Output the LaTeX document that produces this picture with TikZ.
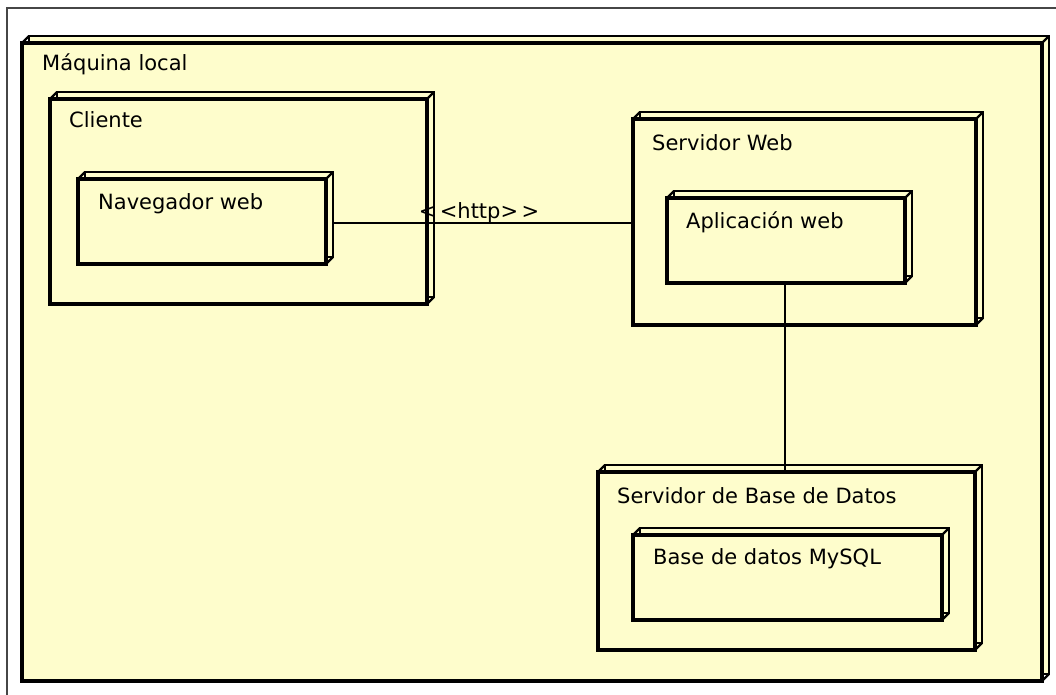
\documentclass[tikz,border=0pt]{standalone}
\usepackage{fontspec}
\setmainfont{DejaVu Sans}
\definecolor{nodefill}{RGB}{254,253,204}
\definecolor{framegray}{RGB}{70,70,70}
\tikzset{
  front/.style={draw=black, fill=nodefill, line width=3.6pt, rectangle,
    inner sep=0pt, outer sep=0pt},
  back/.style={draw=black, fill=nodefill, line width=2.4pt},
  diag/.style={draw=black, line width=2.4pt},
  lbl/.style={anchor=base west, inner sep=0pt, font=\fontsize{21}{25}\selectfont},
  conn/.style={draw=black, line width=1.3pt},
}
% deployment node: name, centre x, centre y, width, height (depth 7)
\newcommand\deploynode[5]{%
  \draw[back] ({#2-#4/2+7},{#3-#5/2-7}) rectangle ({#2+#4/2+7},{#3+#5/2-7});
  \node[front, minimum width=#4pt, minimum height=#5pt] (#1) at (#2,#3) {};
  \draw[diag] (#1.north west) -- ++(7,-7)
              (#1.north east) -- ++(7,-7)
              (#1.south east) -- ++(7,-7);
}
\begin{document}
\begin{tikzpicture}[x=1pt,y=-1pt]
\useasboundingbox (0,0) rectangle (1056,695);
\fill[white] (0,0) rectangle (1056,695);
% frame edges
\draw[framegray, line width=1.2pt] (7,695) -- (7,8) -- (1056,8);

% nodes
\deploynode{local}{532}{362}{1020}{638}
\node[lbl] (tlocal) at (42,71) {Máquina local};

\deploynode{cliente}{238.5}{201.5}{377}{205}
\node[lbl] (tcliente) at (69,128) {Cliente};

\deploynode{nav}{202}{221.5}{248}{85}
\node[lbl] (tnav) at (98,209) {Navegador web};

\deploynode{sweb}{804.5}{222}{343}{206}
\node[lbl] (tsweb) at (652,150) {Servidor Web};

\deploynode{app}{786}{240.5}{238}{85}
\node[lbl] (tapp) at (686,228) {Aplicación web};

\deploynode{sbd}{786.5}{561}{377}{178}
\node[lbl] (tsbd) at (617,503) {Servidor de Base de Datos};

\deploynode{mysql}{787.5}{577.5}{309}{85}
\node[lbl] (tmysql) at (653,564) {Base de datos MySQL};

% connectors
\draw[conn] ([xshift=7pt,yshift=-1.5pt]nav.east) -- ([yshift=-1.5pt]sweb.west |- nav.east);
\node[lbl, anchor=base] (http) at (479,218) {{<}\,{<}http{>}\,{>}};
\draw[conn] ([xshift=-1pt]app.south) -- ([xshift=-1pt]app.south |- sbd.north);
\end{tikzpicture}
\end{document}
